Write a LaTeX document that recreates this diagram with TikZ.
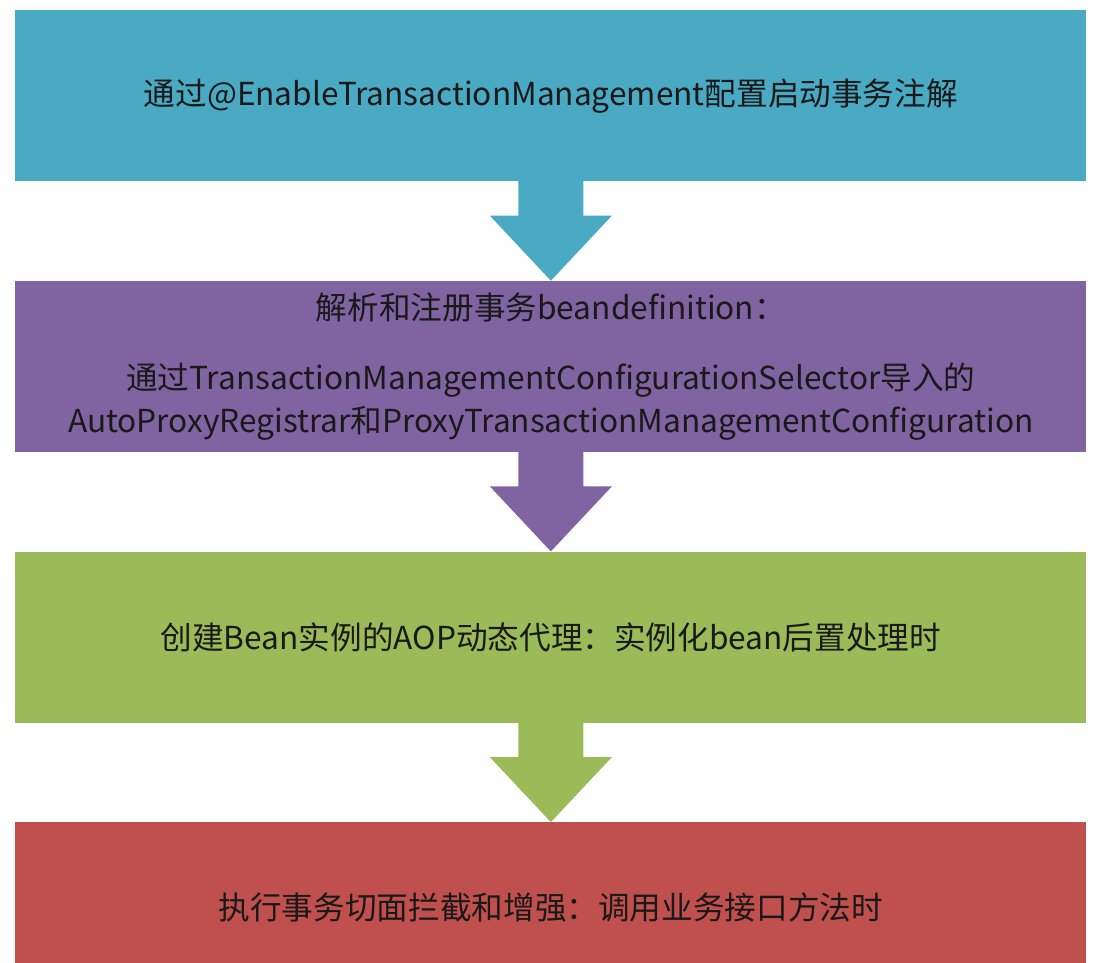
\documentclass[tikz,border=0pt]{standalone}
\usepackage{fontspec}
\setmainfont{Noto Sans CJK SC}
\usetikzlibrary{positioning,calc}
\definecolor{stepblue}{HTML}{4AAAC4}
\definecolor{steppurple}{HTML}{8064A2}
\definecolor{stepgreen}{HTML}{9BBB59}
\definecolor{stepred}{HTML}{C0504D}
\begin{document}
\begin{tikzpicture}[
stage/.style={
  draw=none,
  minimum width=21.42cm,
  minimum height=3.42cm,
  inner sep=0pt,
  align=center,
  text=black!90,
  font=\fontsize{18}{24.5}\selectfont
  },
node distance=1.98cm
]
\useasboundingbox (0,0) rectangle (22,-19.26);
\clip (0,0) rectangle (22,-19.26);

\node[stage,fill=stepblue,anchor=north west] (enable) at (0.30,-0.20)
  {通过@EnableTransactionManagement配置启动事务注解};
\node[stage,fill=steppurple,below=of enable] (register)
  {解析和注册事务beandefinition：\\[0.54cm]
   通过TransactionManagementConfigurationSelector导入的\\
   AutoProxyRegistrar和ProxyTransactionManagementConfiguration};
\node[stage,fill=stepgreen,below=of register] (proxy)
  {创建Bean实例的AOP动态代理：实例化bean后置处理时};
\node[stage,fill=stepred,below=of proxy] (intercept)
  {执行事务切面拦截和增强：调用业务接口方法时};

\foreach \from/\to/\col in {enable/register/stepblue,register/proxy/steppurple,proxy/intercept/stepgreen}
  \fill[\col] ($(\from.south)+(-0.65,0.01)$) |- ($(\to.north)+(-1.22,1.30)$)
    -- (\to.north) -- ($(\to.north)+(1.22,1.30)$) -| ($(\from.south)+(0.65,0.01)$) -- cycle;

\end{tikzpicture}
\end{document}
